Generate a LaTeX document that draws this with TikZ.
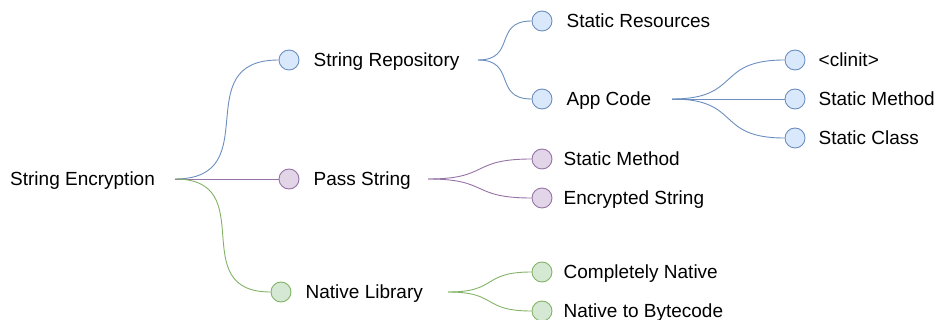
\documentclass[tikz,border=0pt]{standalone}
\usepackage{fontspec}
\setmainfont{Liberation Sans}
\usetikzlibrary{positioning,calc}
\definecolor{bluefill}{HTML}{DAE8FC}
\definecolor{blueline}{HTML}{6C8EBF}
\definecolor{purplefill}{HTML}{E1D5E7}
\definecolor{purpleline}{HTML}{9673A6}
\definecolor{greenfill}{HTML}{D5E8D4}
\definecolor{greenline}{HTML}{82B366}

\begin{document}
\begin{tikzpicture}[x=1pt,y=-1pt,
		dot/.style={circle,draw=#1line,fill=#1fill,line width=.9pt,minimum size=20pt,inner sep=0pt},
		lbl/.style={inner sep=0pt,text height=13.6pt,text depth=0pt,font=\fontsize{19}{23}\selectfont},
		branch/.style={draw=#1line,line width=.9pt},
		twig/.style={out=0,in=180,looseness=#1}
	]

		\useasboundingbox (0,0) rectangle (936,320);

		% root
		\node[lbl,anchor=west] (enc) at (10,179) {String Encryption};
		\coordinate (enc-out) at (175,179);

		% first level
		\node[dot=blue] (repo) at (289,60) {};
		\node[lbl,right=14pt of repo] (repo-t) {String Repository};
		\coordinate (repo-out) at (478,60);

		\node[dot=purple] (pass) at (289,179) {};
		\node[lbl,right=14pt of pass] (pass-t) {Pass String};
		\coordinate (pass-out) at (428,179);

		\node[dot=green] (native) at (281,292) {};
		\node[lbl,right=14pt of native] (native-t) {Native Library};
		\coordinate (native-out) at (448,292);

		% second level
		\node[dot=blue] (res) at (542,21) {};
		\node[lbl,right=14pt of res] (res-t) {Static Resources};
		\node[dot=blue] (app) at (542,99) {};
		\node[lbl,right=14pt of app] (app-t) {App Code};
		\coordinate (app-out) at (672,99);

		\node[dot=purple] (smeth) at (542,159) {};
		\node[lbl,right=11pt of smeth] (smeth-t) {Static Method};
		\node[dot=purple] (encstr) at (542,198) {};
		\node[lbl,right=11pt of encstr] (encstr-t) {Encrypted String};

		\node[dot=green] (full) at (542,272) {};
		\node[lbl,right=11pt of full] (full-t) {Completely Native};
		\node[dot=green] (tobc) at (542,311) {};
		\node[lbl,right=11pt of tobc] (tobc-t) {Native to Bytecode};

		% third level
		\node[dot=blue] (clinit) at (795,60) {};
		\node[lbl,right=13pt of clinit] (clinit-t) {<clinit>};
		\node[dot=blue] (ameth) at (795,99) {};
		\node[lbl,right=13pt of ameth] (ameth-t) {Static Method};
		\node[dot=blue] (aclass) at (795,138) {};
		\node[lbl,right=13pt of aclass] (aclass-t) {Static Class};

		% branches
		\draw[branch=blue] (enc-out) to[twig=1.5] (repo);
		\draw[branch=purple] (enc-out) -- (pass);
		\draw[branch=green] (enc-out) to[twig=1.5] (native);

		\draw[branch=blue] (repo-out) to[twig=1.5] (res);
		\draw[branch=blue] (repo-out) to[twig=1.5] (app);

		\draw[branch=blue] (app-out) to[twig=1.5] (clinit);
		\draw[branch=blue] (app-out) -- (ameth);
		\draw[branch=blue] (app-out) to[twig=1.5] (aclass);

		\draw[branch=purple] (pass-out) to[twig=1.5] (smeth);
		\draw[branch=purple] (pass-out) to[twig=1.5] (encstr);

		\draw[branch=green] (native-out) to[twig=1.5] (full);
		\draw[branch=green] (native-out) to[twig=1.5] (tobc);

	\end{tikzpicture}
\end{document}
